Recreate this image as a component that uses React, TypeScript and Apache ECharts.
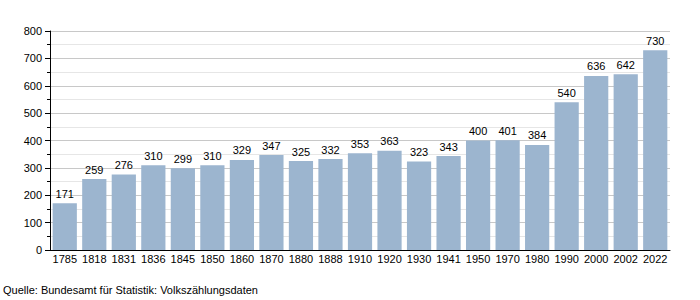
import React, { useEffect, useRef } from "react";
import * as echarts from "echarts";

const years = ["1785","1818","1831","1836","1845","1850","1860","1870","1880","1888","1910","1920","1930","1941","1950","1970","1980","1990","2000","2002","2022"];
const population = [171,259,276,310,299,310,329,347,325,332,353,363,323,343,400,401,384,540,636,642,730];
const sourceText = "Quelle: Bundesamt für Statistik: Volkszählungsdaten";

export default function App() {
  const ref = useRef<HTMLDivElement>(null);
  useEffect(() => {
    const chart = echarts.init(ref.current!, null, { renderer: "svg" });
    const font = "Liberation Sans, Arial, sans-serif";
    chart.setOption({
      animation: false,
      textStyle: { fontFamily: font },
      grid: { left: 50, right: 30, top: 31, bottom: 50 },
      xAxis: {
        type: "category",
        data: years,
        axisLine: { lineStyle: { color: "#000", width: 1 } },
        axisTick: { show: false },
        axisLabel: { color: "#000", fontSize: 11, fontFamily: font, margin: 3, interval: 0 },
      },
      yAxis: {
        type: "value",
        min: 0,
        max: 800,
        interval: 100,
        axisLine: { show: true, lineStyle: { color: "#000", width: 1 } },
        axisTick: { show: true, length: 5, lineStyle: { color: "#000" } },
        minorTick: { show: true, splitNumber: 2, length: 3, lineStyle: { color: "#000" } },
        splitLine: { lineStyle: { color: "#c8c8c8", width: 1 } },
        minorSplitLine: { show: true, lineStyle: { color: "#e6e6e6", width: 1 } },
        axisLabel: { color: "#000", fontSize: 11, fontFamily: font, margin: 8 },
      },
      series: [
        {
          type: "bar",
          data: population,
          barCategoryGap: "18%",
          itemStyle: { color: "#9cb5cf" },
          label: { show: true, position: "top", color: "#000", fontSize: 11, fontFamily: font, distance: 4 },
        },
      ],
      graphic: [
        { type: "text", left: 3, top: 284, style: { text: sourceText, fill: "#000", fontSize: 11, fontFamily: font } },
      ],
    });
    return () => chart.dispose();
  }, []);
  return <div ref={ref} style={{ width: 700, height: 300, position: "absolute", left: 0, top: 0 }} />;
}
